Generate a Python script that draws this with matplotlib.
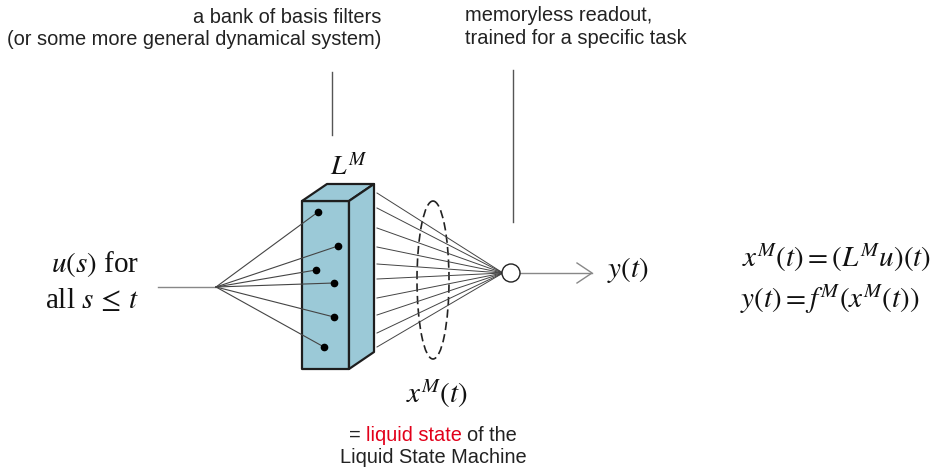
import matplotlib
matplotlib.use('Agg')
import matplotlib.pyplot as plt
from matplotlib.patches import Polygon, Circle, Ellipse

plt.rcParams['mathtext.fontset'] = 'stix'
plt.rcParams['font.family'] = ['Liberation Sans', 'DejaVu Sans']

# diagram geometry (pixel units, y down)
box_front = [(302, 201), (349, 201), (349, 369), (302, 369)]
box_top = [(302, 201), (327, 184), (374, 184), (349, 201)]
box_side = [(349, 201), (374, 184), (374, 352), (349, 369)]
box_color = '#9bc9d7'

hub = (216, 287)
input_start = 158
dots_x = [318, 338, 316, 334, 334, 324]
dots_y = [212, 246, 270, 283, 317, 347]

out_start_x = 377
out_y = [193, 208, 228, 247, 264, 279, 298, 315, 333, 347]
readout = (511, 273)
readout_r = 9

ell_center = (433, 280)
ell_w, ell_h = 32, 158

top_labels_left = ["a bank of basis filters", "(or some more general dynamical system)"]
top_labels_right = ["memoryless readout,", "trained for a specific task"]

fig = plt.figure(figsize=(9.34, 4.70), dpi=100)
ax = fig.add_axes([0, 0, 1, 1])
ax.set_xlim(0, 934)
ax.set_ylim(470, 0)
ax.axis('off')

# fan-in lines
ax.plot([input_start, hub[0]], [hub[1], hub[1]], color='#888888', lw=1.0)
for x, y in zip(dots_x, dots_y):
    ax.plot([hub[0], x], [hub[1], y], color='#444444', lw=0.8, zorder=3)

# box
for pts in (box_front, box_top, box_side):
    ax.add_patch(Polygon(pts, closed=True, facecolor=box_color, edgecolor='#1e1e1e',
                         lw=1.6, joinstyle='round', zorder=2))
ax.plot(dots_x, dots_y, 'o', color='black', ms=4.5, zorder=4)

# fan-out lines
for y in out_y:
    ax.plot([out_start_x, readout[0] - readout_r + 1], [y, readout[1]], color='#444444', lw=0.7)

ax.add_patch(Ellipse(ell_center, ell_w, ell_h, fill=False, edgecolor='#222222',
                     lw=1.2, linestyle=(0, (5, 2.5))))
ax.add_patch(Circle(readout, readout_r, facecolor='white', edgecolor='#222222', lw=1.0, zorder=5))

# output arrow
ax.plot([readout[0] + readout_r, 592], [273, 273], color='#888888', lw=1.0)
ax.plot([577, 592, 577], [263, 273, 283], color='#888888', lw=1.0)

# pointer lines
ax.plot([331.5, 331.5], [72, 135], color='#555555', lw=1.0)
ax.plot([513, 513], [70, 222], color='#555555', lw=1.0)

# top annotations
fs = 14.4
ax.text(381, 23, top_labels_left[0], ha='right', va='baseline', fontsize=fs, color='#222222')
ax.text(381, 45, top_labels_left[1], ha='right', va='baseline', fontsize=fs, color='#222222')
ax.text(465, 21, top_labels_right[0], ha='left', va='baseline', fontsize=fs, color='#222222')
ax.text(465, 44, top_labels_right[1], ha='left', va='baseline', fontsize=fs, color='#222222')

serif = dict(family='Liberation Serif', color='#111111', va='baseline')
ax.text(330, 175, r'$L^M$', fontsize=20, **serif)
ax.text(139, 272, r'$u(s)$ for', fontsize=21, ha='right', **serif)
ax.text(139, 308, r'all $s\, \leq\, t$', fontsize=21, ha='right', **serif)
ax.text(607, 277, r'$y(t)$', fontsize=21, ha='left', **serif)
ax.text(742, 267, r'$x^M(t) = (L^M u)(t)$', fontsize=21, ha='left', **serif)
ax.text(740, 308, r'$y(t) = f^M(x^M(t))$', fontsize=21, ha='left', **serif)
ax.text(406, 403, r'$x^M(t)$', fontsize=21, ha='left', **serif)

# bottom caption with coloured words
fig.canvas.draw()
r = fig.canvas.get_renderer()
def width(s):
    t = ax.text(0, 0, s, fontsize=fs)
    w = t.get_window_extent(r).width
    t.remove()
    return w

cx = 433
w_full = width("= liquid state of the")
w_a = width("= liquid state")
left = cx - w_full / 2
ax.text(left, 441, "=", fontsize=fs, color='#222222', va='baseline')
ax.text(left + w_a, 441, "liquid state", fontsize=fs, color='#e2001a', ha='right', va='baseline')
ax.text(left + w_full, 441, "of the", fontsize=fs, color='#222222', ha='right', va='baseline')
ax.text(cx, 463, "Liquid State Machine", fontsize=fs, color='#222222', ha='center', va='baseline')

fig.savefig('out.png', dpi=100)
